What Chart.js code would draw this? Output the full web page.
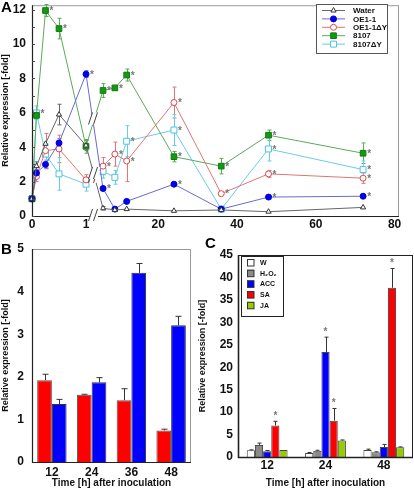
<!DOCTYPE html>
<html>
<head>
<meta charset="utf-8">
<script src="https://cdn.jsdelivr.net/npm/chart.js@4.4.1/dist/chart.umd.min.js"></script>
<style>
  body { margin: 0; background: #fff; width: 414px; height: 489px; position: relative; overflow: hidden; }
  canvas { position: absolute; }
  .panel { position: absolute; font: bold 15px 'Liberation Sans', Arial, sans-serif; color: #000; z-index: 2; }
</style>
</head>
<body>
<canvas id="chartA" width="414" height="230" style="left:0;top:0"></canvas>
<canvas id="chartB" width="200" height="249" style="left:0;top:240px"></canvas>
<canvas id="chartC" width="217" height="249" style="left:197px;top:240px"></canvas>
<div class="panel" style="left:1px;top:-2px">A</div>
<div class="panel" style="left:1px;top:240px">B</div>
<div class="panel" style="left:205px;top:234px">C</div>
<script>
/* ===== DATA ===== */
// panel A: time course (hours), x axis broken after 1 h
const timesA      = [0, 0.083, 0.25, 0.5, 1, 6, 9, 12, 24, 36, 48, 72];
const xTicksA     = [0, 1, 20, 40, 60, 80];
const waterVals   = [1, 2.9, 4.2, 5.9, 4.1, 0.45, 0.35, 0.4, 0.3, 0.35, 0.25, 0.5];
const waterErr    = [0, 0.25, 0, 0.6, 0.3, 0.1, 0, 0, 0, 0, 0, 0];
const waterSig    = [0, 0, 0, 0, 0, 0, 0, 0, 0, 0, 0, 0];
const oeVals      = [1, 2.5, 3.0, 4.25, 8.25, 1.6, 0.4, 0.85, 1.85, 0.4, 1.1, 1.15];
const oeErr       = [0, 0.2, 0.25, 0.25, 0.2, 0.1, 0.1, 0.1, 0.1, 0.05, 0.1, 0.1];
const oeSig       = [0, 0, 0, 0, 1, 1, 0, 0, 1, 0, 1, 1];
const oeDyVals    = [1, 2.3, 3.8, 3.9, 2.1, 2.9, 3.6, 3.2, 6.6, 1.3, 2.45, 2.2];
const oeDyErr     = [0, 0.3, 1.0, 0.8, 0.3, 0.5, 0.7, 1.2, 0.9, 0.1, 0.2, 0.3];
const oeDySig     = [0, 0, 0, 0, 0, 1, 1, 1, 1, 1, 1, 1];
const s8107Vals   = [1, 5.85, 11.95, 10.9, 4.05, 7.3, 7.45, 8.2, 3.45, 2.9, 4.7, 3.65];
const s8107Err    = [0, 0.2, 0.35, 0.6, 0.4, 0.4, 0.15, 0.35, 0.3, 0.45, 0.3, 0.6];
const s8107Sig    = [0, 0, 1, 1, 0, 1, 1, 1, 1, 1, 1, 1];
const dy8107Vals  = [1, 6.0, 3.6, 2.45, 1.85, 2.6, 2.25, 4.35, 5.0, 0.4, 3.9, 2.7];
const dy8107Err   = [0, 0.4, 0.6, 0.95, 0.4, 0.4, 0.4, 0.9, 0.9, 0.05, 0.7, 0.5];
const dy8107Sig   = [0, 1, 0, 0, 0, 0, 0, 1, 1, 0, 1, 1];

// panel B
const hoursB   = ['12', '24', '36', '48'];
const redB     = [1.92, 1.58, 1.45, 0.74];
const redBErr  = [0.14, 0.01, 0.27, 0.03];
const blueB    = [1.36, 1.87, 4.44, 3.21];
const blueBErr = [0.11, 0.11, 0.22, 0.21];

// panel C
const hoursC  = ['12', '24', '48'];
const wC      = [1.5, 0.9, 1.55];
const wCErr   = [0.1, 0.1, 0.2];
const h2o2C   = [2.7, 1.4, 1.05];
const h2o2CErr= [0.4, 0.1, 0.1];
const accC    = [1.3, 23.4, 2.2];
const accCErr = [0.15, 3.3, 0.6];
const accCSig = [0, 1, 0];
const saC     = [7.0, 8.1, 37.7];
const saCErr  = [0.95, 2.7, 4.3];
const saCSig  = [1, 1, 1];
const jaC     = [1.55, 3.7, 2.15];
const jaCErr  = [0, 0.1, 0.1];

/* ===== HELPERS ===== */
const FONT = "'Liberation Sans', Arial, sans-serif";

// broken time axis: 0-1 h stretched, then linear hours
function brk(t) { return t <= 1 ? 54 * t : 47.4 + 3.94 * t; }

function fixScale(w, h) {
  return s => {
    if (w != null) s.width = w;
    if (h != null) s.height = h;
    s.paddingTop = 0; s.paddingBottom = 0; s.paddingLeft = 0; s.paddingRight = 0;
  };
}

const frame = {
  id: 'frame',
  afterDraw(chart, args, o) {
    const { ctx, chartArea: a } = chart;
    ctx.save();
    ctx.strokeStyle = o.box || '#999';
    ctx.lineWidth = 1;
    ctx.strokeRect(a.left + 0.5, a.top + 0.5, a.right - a.left - 1, a.bottom - a.top);
    ctx.strokeStyle = '#222';
    ctx.lineWidth = o.axisW || 1.2;
    ctx.beginPath();
    ctx.moveTo(a.left + 0.5, a.top);
    ctx.lineTo(a.left + 0.5, a.bottom + 0.5);
    ctx.lineTo(a.right, a.bottom + 0.5);
    ctx.stroke();
    // inner minor ticks on y axis
    const ys = chart.scales.y;
    if (o.minor) {
      ctx.lineWidth = 1;
      ctx.strokeStyle = '#444';
      for (let v = 0; v <= ys.max; v += o.minor) {
        const py = Math.round(ys.getPixelForValue(v)) + 0.5;
        ctx.beginPath(); ctx.moveTo(a.left, py); ctx.lineTo(a.left + 3, py); ctx.stroke();
      }
    }
    ctx.restore();
  }
};

const errorBars = {
  id: 'errorBars',
  beforeDatasetsDraw(chart, args, o) {
    const { ctx } = chart;
    const ys = chart.scales.y;
    ctx.save();
    chart.data.datasets.forEach((ds, i) => {
      if (!ds.errs) return;
      const meta = chart.getDatasetMeta(i);
      ctx.strokeStyle = o.color || ds.borderColor;
      ctx.lineWidth = 1;
      meta.data.forEach((el, j) => {
        const v = chart.data.datasets[i].data[j];
        const val = typeof v === 'object' ? v.y : v;
        const e = ds.errs[j];
        if (!e) return;
        const x = Math.round(el.x) + 0.5;
        const top = ys.getPixelForValue(val + e);
        const bot = o.upOnly ? ys.getPixelForValue(val) : ys.getPixelForValue(val - e);
        ctx.beginPath();
        ctx.moveTo(x, top); ctx.lineTo(x, bot);
        ctx.moveTo(x - o.cap, top); ctx.lineTo(x + o.cap, top);
        if (!o.upOnly) { ctx.moveTo(x - o.cap, bot); ctx.lineTo(x + o.cap, bot); }
        ctx.stroke();
      });
    });
    ctx.restore();
  },
  afterDatasetsDraw(chart, args, o) {
    const { ctx } = chart;
    const ys = chart.scales.y;
    ctx.save();
    ctx.fillStyle = '#777';
    ctx.font = 'bold 10px ' + FONT;
    ctx.textAlign = 'center';
    ctx.textBaseline = 'middle';
    chart.data.datasets.forEach((ds, i) => {
      if (!ds.sig) return;
      const meta = chart.getDatasetMeta(i);
      meta.data.forEach((el, j) => {
        if (!ds.sig[j]) return;
        const v = ds.data[j];
        const val = typeof v === 'object' ? v.y : v;
        if (o.upOnly) {
          const top = ys.getPixelForValue(val + (ds.errs ? ds.errs[j] : 0));
          ctx.fillText('*', el.x, top - 5);
        } else {
          ctx.fillText('*', el.x + 6, el.y + 1);
        }
      });
    });
    ctx.restore();
  }
};

function breakMark(ctx, x, y, h) {
  ctx.save();
  ctx.fillStyle = '#fff';
  ctx.beginPath();
  ctx.moveTo(x - 4 - h / 3, y + h); ctx.lineTo(x - 4 + h / 3, y - h);
  ctx.lineTo(x + 4 + h / 3, y - h); ctx.lineTo(x + 4 - h / 3, y + h);
  ctx.closePath(); ctx.fill();
  ctx.strokeStyle = '#444';
  ctx.lineWidth = 1;
  ctx.beginPath();
  ctx.moveTo(x - 4 - h / 3, y + h); ctx.lineTo(x - 4 + h / 3, y - h);
  ctx.moveTo(x + 1 - h / 3, y + h); ctx.lineTo(x + 1 + h / 3, y - h);
  ctx.stroke();
  ctx.restore();
}

const axisBreak = {
  id: 'axisBreak',
  afterDraw(chart) {
    const { ctx, chartArea: a } = chart;
    const xs = chart.scales.x;
    const bx = xs.getPixelForValue((brk(1) + brk(timesA[5])) / 2);
    chart.data.datasets.forEach((ds, i) => {
      if (!ds.breakMark) return;
      const m = chart.getDatasetMeta(i).data;
      const p0 = m[4], p1 = m[5];
      const f = (bx - p0.x) / (p1.x - p0.x);
      breakMark(ctx, bx, p0.y + f * (p1.y - p0.y), 6);
    });
    breakMark(ctx, bx, a.bottom - 1, 6);
  }
};

const legendA = {
  id: 'legendA',
  afterDraw(chart) {
    const ctx = chart.ctx;
    ctx.save();
    ctx.fillStyle = '#fff';
    ctx.fillRect(316, 4, 71, 49);
    ctx.strokeStyle = '#555';
    ctx.lineWidth = 1;
    ctx.strokeRect(316.5, 4.5, 71, 49);
    ctx.font = 'bold 8px ' + FONT;
    ctx.textBaseline = 'middle';
    chart.data.datasets.forEach((ds, i) => {
      const y = 10.5 + i * 8.4;
      ctx.strokeStyle = ds.borderColor;
      ctx.beginPath(); ctx.moveTo(322, y); ctx.lineTo(345, y); ctx.stroke();
      ctx.fillStyle = ds.pointBackgroundColor;
      ctx.strokeStyle = ds.pointBorderColor;
      ctx.lineWidth = 1;
      Chart.helpers.drawPoint(ctx, { pointStyle: ds.pointStyle, radius: ds.pointRadius, borderWidth: 1, rotation: 0 }, 333.5, y);
      ctx.fillStyle = '#111';
      ctx.fillText(ds.label, 353, y + 0.5);
    });
    ctx.restore();
  }
};

const legendC = {
  id: 'legendC',
  afterDraw(chart) {
    const ctx = chart.ctx;
    ctx.save();
    ctx.fillStyle = '#fff';
    ctx.fillRect(44, 16, 42, 60);
    ctx.strokeStyle = '#222';
    ctx.lineWidth = 1;
    ctx.strokeRect(44.5, 16.5, 42, 60);
    ctx.font = 'bold 7px ' + FONT;
    ctx.textBaseline = 'middle';
    chart.data.datasets.forEach((ds, i) => {
      const y = 22.5 + i * 10.7;
      ctx.fillStyle = ds.backgroundColor;
      ctx.fillRect(50, y - 3.5, 7, 7);
      ctx.strokeStyle = '#333';
      ctx.strokeRect(50.5, y - 3, 6.5, 6.5);
      ctx.fillStyle = '#111';
      ctx.fillText(ds.label, 63, y + 0.5);
    });
    ctx.restore();
  }
};

const tickFont = { family: FONT, size: 12, weight: 'bold' };
const titleFont = { family: FONT, size: 9, weight: 'bold' };

/* ===== PANEL A ===== */
function lineSeries(label, vals, errs, sig, line, marker, fill, style, r, extra) {
  return Object.assign({
    label,
    data: timesA.map((t, i) => ({ x: brk(t), y: vals[i] })),
    errs, sig,
    borderColor: line, borderWidth: 1,
    pointStyle: style, pointRadius: r, pointHoverRadius: r,
    pointBackgroundColor: fill, pointBorderColor: marker, pointBorderWidth: 1,
    tension: 0, clip: false
  }, extra || {});
}

new Chart(document.getElementById('chartA'), {
  type: 'line',
  data: {
    datasets: [
      lineSeries('Water', waterVals, waterErr, waterSig, '#666', '#333', '#fff', 'triangle', 3, { breakMark: true }),
      lineSeries('OE1-1', oeVals, oeErr, oeSig, '#6a6ad0', '#0000dd', '#0000ee', 'circle', 3),
      lineSeries('OE1-1\u0394Y', oeDyVals, oeDyErr, oeDySig, '#e07575', '#e04848', '#fff', 'circle', 3, { breakMark: true }),
      lineSeries('8107', s8107Vals, s8107Err, s8107Sig, '#5aaa5a', '#0b7d0b', '#129a12', 'rect', 4, { breakMark: true }),
      lineSeries('8107\u0394Y', dy8107Vals, dy8107Err, dy8107Sig, '#66cde8', '#4fc3e3', '#fff', 'rect', 4.2)
    ]
  },
  options: {
    responsive: false,
    animation: false,
    devicePixelRatio: 1,
    layout: { padding: { top: 3, right: 15, left: 0, bottom: 0 } },
    plugins: {
      legend: { display: false },
      tooltip: { enabled: false },
      frame: { box: '#999', minor: 1 },
      errorBars: { cap: 2, upOnly: false }
    },
    scales: {
      x: {
        type: 'linear', min: 0, max: 367,
        grid: { display: false, drawTicks: false },
        border: { display: false },
        afterBuildTicks: s => { s.ticks = xTicksA.map(h => ({ value: brk(h) })); },
        afterFit: fixScale(null, 14),
        ticks: { autoSkip: false, maxRotation: 0, padding: 1, color: '#111', font: tickFont,
                 callback: (v, i) => String(xTicksA[i]) }
      },
      y: {
        min: 0, max: 12.26,
        grid: { display: false, drawTicks: false },
        border: { display: false },
        afterBuildTicks: s => { s.ticks = [0, 2, 4, 6, 8, 10, 12].map(v => ({ value: v })); },
        afterFit: fixScale(32, null),
        ticks: { padding: 6, color: '#111', font: tickFont },
        title: { display: true, text: 'Relative expression [-fold]', color: '#111', font: titleFont, padding: 0 }
      }
    }
  },
  plugins: [frame, errorBars, axisBreak, legendA]
});

/* ===== PANEL B ===== */
new Chart(document.getElementById('chartB'), {
  type: 'bar',
  data: {
    labels: hoursB,
    datasets: [
      { label: 'red', data: redB, errs: redBErr, backgroundColor: '#ff0000', borderColor: '#555', borderWidth: 1, borderSkipped: 'bottom' },
      { label: 'blue', data: blueB, errs: blueBErr, backgroundColor: '#0000ff', borderColor: '#333', borderWidth: 1, borderSkipped: 'bottom' }
    ]
  },
  options: {
    responsive: false,
    animation: false,
    devicePixelRatio: 1,
    categoryPercentage: 0.74,
    barPercentage: 1,
    layout: { padding: { top: 9, right: 9, left: 0, bottom: 0 } },
    plugins: {
      legend: { display: false },
      tooltip: { enabled: false },
      frame: { box: '#999' },
      errorBars: { cap: 3, upOnly: true, color: '#333' }
    },
    scales: {
      x: {
        grid: { display: false, drawTicks: false },
        border: { display: false },
        afterFit: fixScale(null, 27),
        ticks: { padding: 3, color: '#111', font: tickFont },
        title: { display: true, text: 'Time [h] after inoculation', color: '#111', font: { family: FONT, size: 10, weight: 'bold' }, padding: 0 }
      },
      y: {
        min: 0, max: 5,
        grid: { display: false, drawTicks: false },
        border: { display: false },
        afterFit: fixScale(32, null),
        ticks: { stepSize: 1, padding: 8, color: '#111', font: tickFont },
        title: { display: true, text: 'Relative expression [-fold]', color: '#111', font: titleFont, padding: 0 }
      }
    }
  },
  plugins: [frame, errorBars]
});

/* ===== PANEL C ===== */
new Chart(document.getElementById('chartC'), {
  type: 'bar',
  data: {
    labels: hoursC,
    datasets: [
      { label: 'W', data: wC, errs: wCErr, backgroundColor: '#ffffff' },
      { label: 'H\u2082O\u2082', data: h2o2C, errs: h2o2CErr, backgroundColor: '#8a8a8a' },
      { label: 'ACC', data: accC, errs: accCErr, sig: accCSig, backgroundColor: '#0000ff' },
      { label: 'SA', data: saC, errs: saCErr, sig: saCSig, backgroundColor: '#ff0000' },
      { label: 'JA', data: jaC, errs: jaCErr, backgroundColor: '#99cc00' }
    ].map(d => Object.assign(d, { borderColor: '#444', borderWidth: 1, borderSkipped: 'bottom' }))
  },
  options: {
    responsive: false,
    animation: false,
    devicePixelRatio: 1,
    categoryPercentage: 0.7,
    barPercentage: 1,
    layout: { padding: { top: 15, right: 1, left: 0, bottom: 0 } },
    plugins: {
      legend: { display: false },
      tooltip: { enabled: false },
      frame: { box: '#222', axisW: 1.6 },
      errorBars: { cap: 2, upOnly: true, color: '#333' }
    },
    scales: {
      x: {
        grid: { display: false, drawTicks: false },
        border: { display: false },
        afterFit: fixScale(null, 32),
        ticks: { padding: 1, color: '#111', font: tickFont },
        title: { display: true, text: 'Time [h] after inoculation', color: '#111', font: { family: FONT, size: 10, weight: 'bold' }, padding: 0 }
      },
      y: {
        min: 0, max: 45,
        grid: { display: false, drawTicks: false },
        border: { display: false },
        afterFit: fixScale(41, null),
        ticks: { stepSize: 5, padding: 5, color: '#111', font: tickFont },
        title: { display: true, text: 'Relative expression [-fold]', color: '#111', font: titleFont, padding: 0 }
      }
    }
  },
  plugins: [frame, errorBars, legendC]
});
</script>
</body>
</html>
